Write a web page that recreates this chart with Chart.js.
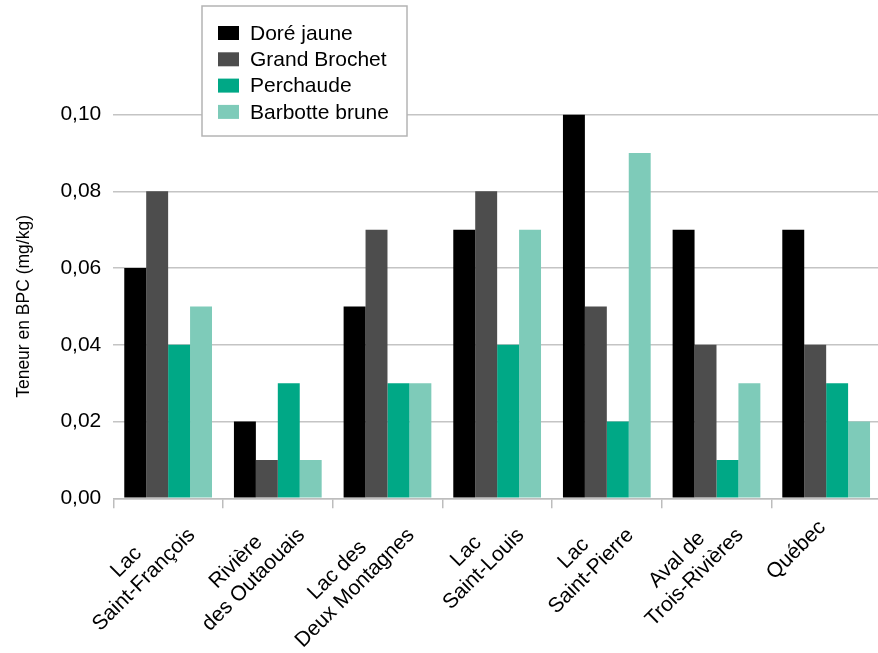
<!DOCTYPE html>
<html>
<head>
<meta charset="utf-8">
<script src="https://cdn.jsdelivr.net/npm/chart.js@4"></script>
<style>
  html, body { margin: 0; padding: 0; background: #fff; overflow: hidden; }
  #wrap { position: relative; width: 884px; height: 653px; }
</style>
</head>
<body>
<div id="wrap"><canvas id="barchart"></canvas></div>
<script>
const sites = [
  ['Lac', 'Saint-François'],
  ['Rivière', 'des Outaouais'],
  ['Lac des', 'Deux Montagnes'],
  ['Lac', 'Saint-Louis'],
  ['Lac', 'Saint-Pierre'],
  ['Aval de', 'Trois-Rivières'],
  ['Québec']
];
const species = ['Doré jaune', 'Grand Brochet', 'Perchaude', 'Barbotte brune'];
const doreJaune = [0.06, 0.02, 0.05, 0.07, 0.10, 0.07, 0.07];
const grandBrochet = [0.08, 0.01, 0.07, 0.08, 0.05, 0.04, 0.04];
const perchaude = [0.04, 0.03, 0.03, 0.04, 0.02, 0.01, 0.03];
const barbotte = [0.05, 0.01, 0.03, 0.07, 0.09, 0.03, 0.02];
const yTicks = [0, 0.02, 0.04, 0.06, 0.08, 0.10];

const colors = ['#000000', '#4d4d4d', '#00a886', '#7ecbb9'];
const FONT = '"Liberation Sans", Arial, sans-serif';

// legend box drawn over the plot, like the original
const boxLegend = {
  id: 'boxLegend',
  afterDraw(chart) {
    const ctx = chart.ctx;
    ctx.save();
    ctx.fillStyle = '#ffffff';
    ctx.strokeStyle = '#b4b4b4';
    ctx.lineWidth = 1.5;
    ctx.fillRect(202, 6, 205, 130);
    ctx.strokeRect(202, 6, 205, 130);
    ctx.font = '21px ' + FONT;
    ctx.textBaseline = 'middle';
    ctx.textAlign = 'left';
    chart.data.datasets.forEach((ds, i) => {
      const y = 33 + i * 26.3;
      ctx.fillStyle = ds.backgroundColor;
      ctx.fillRect(218, y - 7, 21, 14);
      ctx.fillStyle = '#000000';
      ctx.fillText(ds.label, 250, y + 1);
    });
    ctx.restore();
  }
};

// rotated category labels with centred lines
const slantLabels = {
  id: 'slantLabels',
  afterDraw(chart) {
    const ctx = chart.ctx;
    const xs = chart.scales.x;
    ctx.save();
    ctx.font = '21px ' + FONT;
    ctx.fillStyle = '#000000';
    ctx.textAlign = 'center';
    ctx.textBaseline = 'middle';
    chart.data.labels.forEach((lab, i) => {
      const lines = Array.isArray(lab) ? lab : [lab];
      const w = Math.max(...lines.map(l => ctx.measureText(l).width));
      const edge = lines.length > 1 ? -7 : -21;
      ctx.save();
      ctx.translate(xs.getPixelForTick(i), xs.top);
      ctx.rotate(-Math.PI / 4);
      lines.forEach((l, j) => {
        ctx.fillText(l, edge - w / 2, 3 + 25 * (j + 0.5));
      });
      ctx.restore();
    });
    ctx.restore();
  }
};

const ctx = document.getElementById('barchart');

new Chart(ctx, {
  type: 'bar',
  data: {
    labels: sites,
    datasets: [
      { label: species[0], data: doreJaune, backgroundColor: colors[0] },
      { label: species[1], data: grandBrochet, backgroundColor: colors[1] },
      { label: species[2], data: perchaude, backgroundColor: colors[2] },
      { label: species[3], data: barbotte, backgroundColor: colors[3] }
    ]
  },
  options: {
    responsive: true,
    maintainAspectRatio: false,
    animation: false,
    devicePixelRatio: 1,
    layout: { padding: { top: 114.5, right: 3, left: 0, bottom: 0 } },
    datasets: { bar: { categoryPercentage: 0.8, barPercentage: 1.0 } },
    plugins: {
      legend: { display: false },
      tooltip: { enabled: false }
    },
    scales: {
      x: {
        afterFit: s => { s.height = 154.7; },
        ticks: { display: false },
        grid: {
          offset: true,
          drawOnChartArea: false,
          drawTicks: true,
          tickLength: 10,
          color: '#bdbdbd',
          lineWidth: 1.5
        },
        border: { display: true, color: '#bdbdbd', width: 1.5 }
      },
      y: {
        min: 0,
        max: 0.10,
        afterFit: s => { s.width = 113.3; },
        afterBuildTicks: s => { s.ticks = yTicks.map(v => ({ value: v })); },
        ticks: {
          padding: 12,
          color: '#000000',
          font: { family: FONT, size: 21 },
          callback: v => v.toFixed(2).replace('.', ',')
        },
        grid: { drawTicks: false, color: '#c4c4c4', lineWidth: 1.5 },
        border: { display: false },
        title: {
          display: true,
          text: 'Teneur en BPC (mg/kg)',
          color: '#000000',
          font: { family: FONT, size: 17.5 },
          padding: { top: 14, bottom: 0 }
        }
      }
    }
  },
  plugins: [boxLegend, slantLabels]
});
</script>
</body>
</html>
